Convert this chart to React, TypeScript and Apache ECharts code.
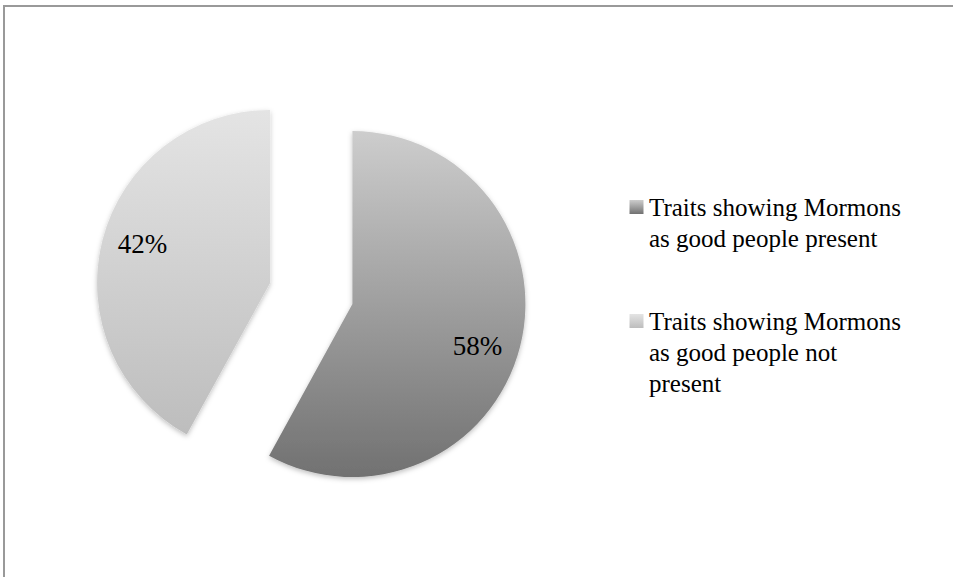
import React, { useEffect, useRef } from "react";
import * as echarts from "echarts";

const categories = [
  "Traits showing Mormons\nas good people present",
  "Traits showing Mormons\nas good people not\npresent",
];
const values = [58, 42];
const gradientStops = [
  ["#cdcdcd", "#717171"],
  ["#e4e4e4", "#bdbdbd"],
];

const FONT = "'Liberation Serif', 'Times New Roman', serif";

const grad = (i: number) =>
  new echarts.graphic.LinearGradient(0, 0, 0, 1, [
    { offset: 0, color: gradientStops[i][0] },
    { offset: 1, color: gradientStops[i][1] },
  ]);

const labelPads = [
  [0, 0, 0, 77],
  [0, 82, 0, 0],
];
const labelFormats = ["{s| }\n{c}%", "{c}%\n{s| }"];
const spacerHeights = [40, 34];
const legendTops = [192, 306];
const iconTops = [200, 314];

export default function App() {
  const ref = useRef<HTMLDivElement>(null);
  useEffect(() => {
    if (!ref.current) return;
    const chart = echarts.init(ref.current, undefined, { renderer: "svg" });
    const legendGraphics: any[] = [];
    categories.forEach((name, i) => {
      legendGraphics.push({
        type: "rect",
        shape: { x: 629.5, y: iconTops[i], width: 14, height: 14 },
        style: { fill: grad(i) },
      });
      legendGraphics.push({
        type: "text",
        x: 649,
        y: legendTops[i],
        style: {
          text: name,
          font: `25px ${FONT}`,
          fill: "#000",
          lineHeight: 31,
          verticalAlign: "top",
          align: "left",
        },
      });
    });
    chart.setOption({
      animation: false,
      backgroundColor: "#fff",
      graphic: [
        {
          type: "rect",
          shape: { x: 4, y: 6, width: 1100, height: 1100 },
          style: { fill: "none", stroke: "#999", lineWidth: 2 },
          silent: true,
        },
        ...legendGraphics,
      ],
      series: [
        {
          type: "pie",
          center: [311.25, 293.5],
          radius: 173,
          startAngle: 90,
          clockwise: true,
          selectedMode: "multiple",
          selectedOffset: 42.5,
          emphasis: { disabled: true },
          labelLine: { show: false },
          label: {
            show: true,
            position: "inside",
            formatter: "{c}%",
            color: "#000",
            fontFamily: FONT,
            fontSize: 27,
            lineHeight: 30,
          },
          itemStyle: {
            shadowBlur: 5,
            shadowOffsetY: 2,
            shadowColor: "rgba(0,0,0,0.25)",
          },
          data: values.map((v, i) => ({
            value: v,
            name: categories[i],
            selected: true,
            itemStyle: { color: grad(i) },
            label: {
              padding: labelPads[i],
              formatter: labelFormats[i],
              rich: { s: { height: spacerHeights[i], lineHeight: spacerHeights[i], fontSize: 4 } },
            },
          })),
        },
      ],
    });
    return () => chart.dispose();
  }, []);
  return (
    <div
      ref={ref}
      style={{ position: "absolute", left: 0, top: 0, width: 953, height: 577 }}
    />
  );
}
